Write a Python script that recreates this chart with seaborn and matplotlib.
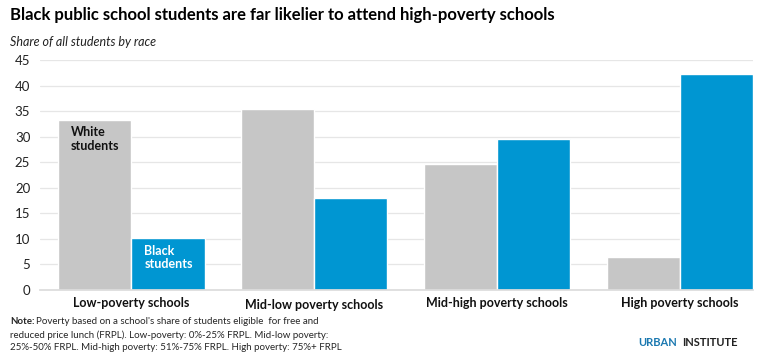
import matplotlib.pyplot as plt
import pandas as pd
import seaborn as sns

categories = ["Low-poverty schools", "Mid-low poverty schools",
              "Mid-high poverty schools", "High poverty schools"]
white_share = [33.3, 35.4, 24.7, 6.5]
black_share = [10.2, 18.0, 29.5, 42.3]
y_ticks = [0, 5, 10, 15, 20, 25, 30, 35, 40, 45]

GRAY = "#c6c6c6"
BLUE = "#0096d2"

df = pd.DataFrame({
    "category": categories * 2,
    "share": white_share + black_share,
    "race": ["White"] * 4 + ["Black"] * 4,
})

sns.set_theme(style="white")
plt.rcParams["font.family"] = ["Lato", "DejaVu Sans"]

fig = plt.figure(figsize=(7.57, 3.52), dpi=100)
ax = fig.add_axes([40 / 757, 1 - 290 / 352, 713 / 757, 230 / 352])

sns.barplot(data=df, x="category", y="share", hue="race",
            palette={"White": GRAY, "Black": BLUE}, width=0.8,
            saturation=1, legend=False, ax=ax)

ax.set_ylim(0, 45)
ax.set_xlim(-0.5, 3.4)
ax.set_yticks(y_ticks)
ax.set_yticklabels([str(t) for t in y_ticks], fontsize=9.5, color="#222222")
ax.yaxis.grid(True, color="#e6e6e6", linewidth=0.9)
ax.set_axisbelow(True)
ax.set_xlabel("")
ax.set_ylabel("")
ax.tick_params(axis="y", length=0, pad=7)
ax.tick_params(axis="x", length=0, pad=5)
ax.set_xticks(range(len(categories)))
ax.set_xticklabels(categories, fontsize=9, fontweight="bold", color="#111111")
for i, lbl in enumerate(ax.get_xticklabels()):
    if i == 1:
        lbl.set_y(-0.007)
for s in ["top", "right", "left"]:
    ax.spines[s].set_visible(False)
ax.spines["bottom"].set_color("#dcdcdc")

# in-bar labels
ax.text(-0.33, white_share[0] - 1.3, "White\nstudents", fontsize=9,
        fontweight="bold", color="#111111", va="top", linespacing=1.15)
ax.text(0.07, black_share[0] - 1.3, "Black\nstudents", fontsize=9,
        fontweight="bold", color="white", va="top", linespacing=1.15)

fig.text(10 / 757, 1 - 15 / 352, "Black public school students are far likelier to attend high-poverty schools",
         fontsize=12, fontweight="bold", va="center", color="#000000")
fig.text(10 / 757, 1 - 42 / 352, "Share of all students by race",
         fontsize=9, style="italic", va="center", color="#222222")

note_y = 1 - 322 / 352
fig.text(10 / 757, note_y, "Note:", fontsize=7, fontweight="bold", va="center")
fig.text(36 / 757, note_y, "Poverty based on a school's share of students eligible  for free and",
         fontsize=7, va="center")
fig.text(10 / 757, 1 - 335 / 352,
         "reduced price lunch (FRPL). Low-poverty: 0%-25% FRPL. Mid-low poverty:",
         fontsize=7, va="center")
fig.text(10 / 757, 1 - 347 / 352,
         "25%-50% FRPL. Mid-high poverty: 51%-75% FRPL. High poverty: 75%+ FRPL",
         fontsize=7, va="center")

fig.text(638 / 757, 1 - 342 / 352, "URBAN", fontsize=8, fontweight="bold",
         color="#1a78b0", va="center")
fig.text(682 / 757, 1 - 342 / 352, "INSTITUTE", fontsize=8, fontweight="bold",
         color="#222222", va="center")

fig.savefig("out.png", dpi=100)
